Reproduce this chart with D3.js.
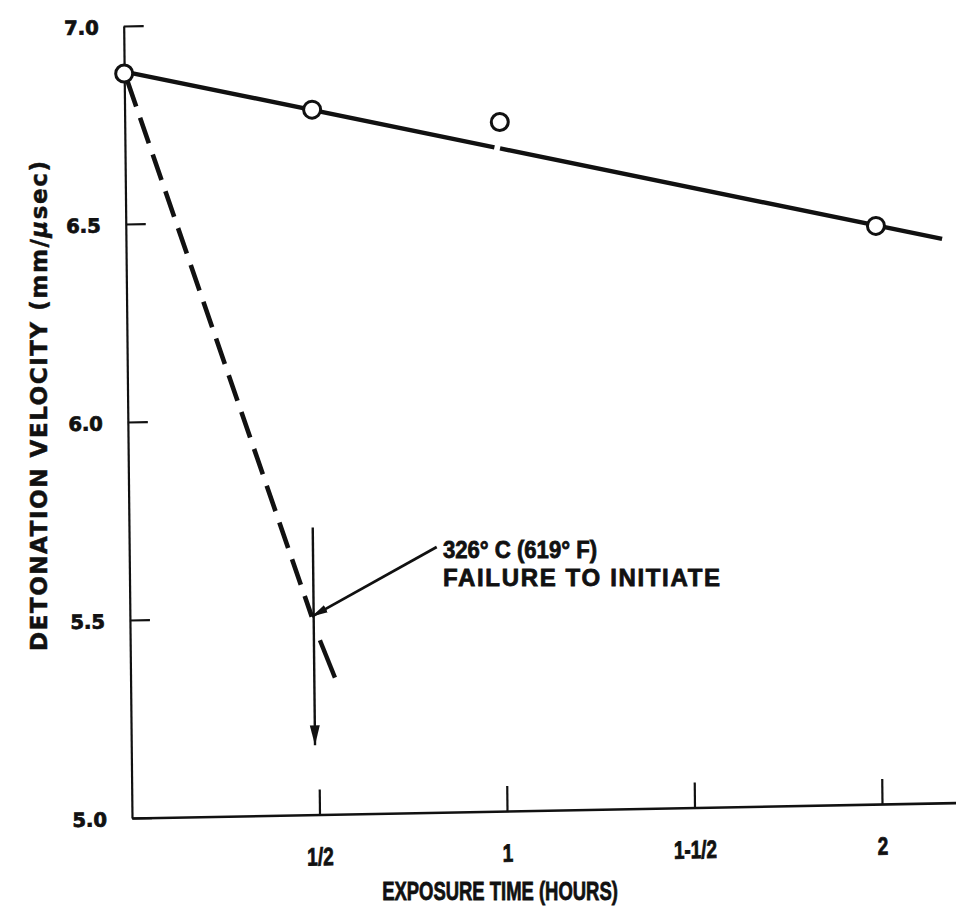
<!DOCTYPE html>
<html>
<head>
<meta charset="utf-8">
<script src="https://cdn.jsdelivr.net/npm/d3@7"></script>
<style>
  html, body { margin: 0; padding: 0; background: #fff; }
  svg { display: block; }
</style>
</head>
<body>
<svg id="chart" width="956" height="911"></svg>
<script>
// Measured detonation velocity after thermal exposure
const hours = [0, 0.5, 1, 2];
const velocity = [6.88, 6.78, 6.74, 6.46];

// Fitted trend through the measured points
const fitHours = [0, 2.176];
const fitVelocity = [6.885, 6.424];
const fitBreak = [0.985, 1.0];

// Extrapolated drop toward the failure point (dashed) and its lower tail
const dropHours = [0, 0.485];
const dropVelocity = [6.885, 5.5];
const tailHours = [0.506, 0.545];
const tailVelocity = [5.44, 5.345];

// Failure marker: vertical arrow and the pointer from the note
const failHour = 0.49;
const failVelocity = [5.725, 5.175];
const noteTip = [0.485, 5.5];
const noteTail = [0.82, 5.67];
const noteLines = ["326° C (619° F)", "FAILURE TO INITIATE"];

// Axis ticks
const xTicks = [0.5, 1, 1.5, 2];
const xTickLabels = ["1/2", "1", "1-1/2", "2"];
const yTicks = [5.0, 5.5, 6.0, 6.5, 7.0];
const yTickLabels = ["5.0", "5.5", "6.0", "6.5", "7.0"];

const ink = "#111";
const svg = d3.select("#chart");

// The plotted frame sits slightly askew on the sheet
const plot = svg.append("g")
  .attr("transform", "matrix(1,-0.0186,0.0105,1,132,818)");

const x = d3.scaleLinear().domain([0, 2.2]).range([0, 825]);
const y = d3.scaleLinear().domain([5, 7]).range([0, -792]);

const defs = svg.append("defs");
defs.append("marker")
  .attr("id", "headBig")
  .attr("markerUnits", "userSpaceOnUse")
  .attr("viewBox", "0 0 20 12")
  .attr("refX", 20).attr("refY", 6)
  .attr("markerWidth", 20).attr("markerHeight", 12)
  .attr("orient", "auto")
  .append("path").attr("d", "M0,1 L20,6 L0,11 Z").attr("fill", ink);
defs.append("marker")
  .attr("id", "headSmall")
  .attr("markerUnits", "userSpaceOnUse")
  .attr("viewBox", "0 0 16 10")
  .attr("refX", 16).attr("refY", 5)
  .attr("markerWidth", 16).attr("markerHeight", 10)
  .attr("orient", "auto")
  .append("path").attr("d", "M0,1 L16,5 L0,9 Z").attr("fill", ink);

// X axis: ticks point up into the plot
const xAxis = d3.axisBottom(x)
  .tickValues(xTicks)
  .tickFormat((d, i) => xTickLabels[i])
  .tickSizeInner(-25)
  .tickSizeOuter(0)
  .tickPadding(33);
const gx = plot.append("g").call(xAxis);
gx.select(".domain").attr("stroke", ink).attr("stroke-width", 2.6);
gx.selectAll(".tick line").attr("stroke", ink).attr("stroke-width", 2.2);
gx.selectAll(".tick text")
  .attr("fill", ink)
  .attr("stroke", ink).attr("stroke-width", 0.8)
  .attr("font-family", "'Liberation Sans', Arial, sans-serif")
  .attr("font-weight", "bold")
  .attr("font-size", 25)
  .attr("transform", "scale(0.76,1)");

// Y axis: ticks point right into the plot
const yAxis = d3.axisLeft(y)
  .tickValues(yTicks)
  .tickFormat((d, i) => yTickLabels[i])
  .tickSizeInner(-20)
  .tickSizeOuter(0)
  .tickPadding(25);
const gy = plot.append("g").call(yAxis);
gy.select(".domain").attr("stroke", ink).attr("stroke-width", 2.2);
gy.selectAll(".tick line").attr("stroke", ink).attr("stroke-width", 2.2);
gy.selectAll(".tick text")
  .attr("fill", ink)
  .attr("stroke", ink).attr("stroke-width", 0.8)
  .attr("font-family", "'DejaVu Sans', sans-serif")
  .attr("font-weight", "bold")
  .attr("font-size", 19.5)
  .attr("dy", "0.38em");

const line = d3.line().x(d => x(d[0])).y(d => y(d[1]));
const fitAt = t => fitVelocity[0] + (fitVelocity[1] - fitVelocity[0]) * (t - fitHours[0]) / (fitHours[1] - fitHours[0]);

// Trend line, drawn in two pieces with the small break near one hour
plot.append("path")
  .attr("d", line([[fitHours[0], fitVelocity[0]], [fitBreak[0], fitAt(fitBreak[0])]]))
  .attr("fill", "none").attr("stroke", ink).attr("stroke-width", 4.4);
plot.append("path")
  .attr("d", line([[fitBreak[1], fitAt(fitBreak[1])], [fitHours[1], fitVelocity[1]]]))
  .attr("fill", "none").attr("stroke", ink).attr("stroke-width", 4.4);

// Dashed drop to the failure point
plot.append("path")
  .attr("d", line(dropHours.map((h, i) => [h, dropVelocity[i]])))
  .attr("fill", "none").attr("stroke", ink).attr("stroke-width", 4.6)
  .attr("stroke-dasharray", "27,12").attr("stroke-dashoffset", -10);
plot.append("path")
  .attr("d", line(tailHours.map((h, i) => [h, tailVelocity[i]])))
  .attr("fill", "none").attr("stroke", ink).attr("stroke-width", 4.4);

// Vertical failure arrow
plot.append("path")
  .attr("d", line(failVelocity.map(v => [failHour, v])))
  .attr("fill", "none").attr("stroke", ink).attr("stroke-width", 2.4)
  .attr("marker-end", "url(#headBig)");

// Pointer from the note to the failure point
plot.append("path")
  .attr("d", line([noteTail, noteTip]))
  .attr("fill", "none").attr("stroke", ink).attr("stroke-width", 2.8)
  .attr("marker-end", "url(#headSmall)");

// Measured points
plot.selectAll("circle.pt")
  .data(hours.map((h, i) => [h, velocity[i]]))
  .join("circle")
  .attr("class", "pt")
  .attr("cx", d => x(d[0]))
  .attr("cy", d => y(d[1]))
  .attr("r", 8.5)
  .attr("fill", "#fff")
  .attr("stroke", ink)
  .attr("stroke-width", 3);

// Note text
const note = svg.append("text")
  .attr("font-family", "'Liberation Sans', Arial, sans-serif")
  .attr("font-weight", "bold")
  .attr("font-size", 24)
  .attr("fill", ink)
  .attr("stroke", ink).attr("stroke-width", 0.8);
note.append("tspan").attr("x", 443).attr("y", 558)
  .attr("textLength", 154).attr("lengthAdjust", "spacingAndGlyphs").text(noteLines[0]);
note.append("tspan").attr("x", 443).attr("y", 586)
  .attr("textLength", 277).text(noteLines[1]);

// Axis titles
svg.append("text")
  .attr("transform", "translate(500,900) scale(0.71,1)")
  .attr("text-anchor", "middle")
  .attr("font-family", "'Liberation Sans', Arial, sans-serif")
  .attr("font-weight", "bold")
  .attr("font-size", 26)
  .attr("fill", ink)
  .attr("stroke", ink).attr("stroke-width", 0.8)
  .text("EXPOSURE TIME (HOURS)");

const yTitle = svg.append("text")
  .attr("transform", "translate(47,406) rotate(-90)")
  .attr("text-anchor", "middle")
  .attr("font-family", "'DejaVu Sans', sans-serif")
  .attr("font-weight", "bold")
  .attr("font-size", 23)
  .attr("textLength", 490)
  .attr("fill", ink)
  .attr("stroke", ink).attr("stroke-width", 0.5);
yTitle.append("tspan").text("DETONATION VELOCITY (mm/");
yTitle.append("tspan").attr("font-style", "italic").text("μ");
yTitle.append("tspan").text("sec)");
</script>
</body>
</html>
